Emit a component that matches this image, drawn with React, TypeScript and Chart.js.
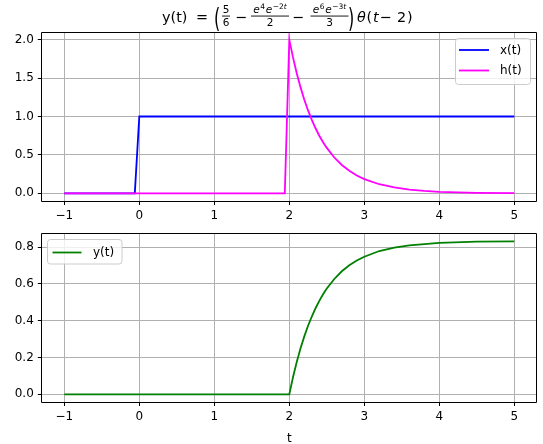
import React, { useEffect, useRef } from "react";
import { Chart, registerables } from "chart.js";
Chart.register(...registerables);

// ---- data ----
const tX = [-1, -0.06, 0, 5];
const xVals = [0, 0, 1, 1];

const tH = [-1, 1.94, 2.0, 2.05, 2.1, 2.15, 2.2, 2.25, 2.3, 2.35, 2.4, 2.45, 2.5, 2.6, 2.7, 2.8, 2.9, 3.0, 3.2, 3.4, 3.6, 3.8, 4.0, 4.5, 5.0];
const hVals = [0, 0, 2.0, 1.766, 1.56, 1.379, 1.219, 1.079, 0.956, 0.847, 0.75, 0.666, 0.591, 0.466, 0.369, 0.293, 0.232, 0.185, 0.118, 0.076, 0.049, 0.032, 0.02, 0.007, 0.002];

const tY = [-1, 2.0, 2.05, 2.1, 2.15, 2.2, 2.25, 2.3, 2.35, 2.4, 2.45, 2.5, 2.6, 2.7, 2.8, 2.9, 3.0, 3.2, 3.4, 3.6, 3.8, 4.0, 4.5, 5.0];
const yVals = [0, 0, 0.094, 0.177, 0.25, 0.315, 0.373, 0.423, 0.468, 0.508, 0.544, 0.575, 0.627, 0.669, 0.702, 0.728, 0.748, 0.779, 0.798, 0.81, 0.817, 0.823, 0.83, 0.832];

const xTicks = [-1, 0, 1, 2, 3, 4, 5];
const topYTicks = [0, 0.5, 1, 1.5, 2];
const botYTicks = [0, 0.2, 0.4, 0.6, 0.8];

const labelX = "x(t)";
const labelH = "h(t)";
const labelY = "y(t)";
const xAxisLabel = "t";

const FONT = "'DejaVu Sans', sans-serif";

function pts(xs: number[], ys: number[]) {
  return xs.map((x, i) => ({ x, y: ys[i] }));
}

function makeScales(yMin: number, yMax: number, yTicks: number[], xAxisH: number) {
  const grid = { color: "#b0b0b0", lineWidth: 1, tickLength: 4, tickColor: "#000", drawTicks: true };
  const tickFont = { family: FONT, size: 12 };
  return {
    x: {
      type: "linear",
      min: -1.3,
      max: 5.3,
      afterBuildTicks: (s: any) => {
        s.ticks = xTicks.map((v) => ({ value: v }));
      },
      afterFit: (s: any) => {
        s.height = xAxisH;
      },
      grid,
      border: { display: false },
      ticks: {
        color: "#000",
        font: tickFont,
        padding: 4,
        maxRotation: 0,
        autoSkip: false,
        callback: (v: any) => String(v).replace("-", "\u2212"),
      },
    },
    y: {
      type: "linear",
      min: yMin,
      max: yMax,
      afterBuildTicks: (s: any) => {
        s.ticks = yTicks.map((v) => ({ value: v }));
      },
      afterFit: (s: any) => {
        s.width = 41.8;
      },
      grid,
      border: { display: false },
      ticks: {
        color: "#000",
        font: tickFont,
        padding: 4,
        autoSkip: false,
        callback: (v: any) => Number(v).toFixed(1),
      },
    },
  };
}

const framePlugin = {
  id: "frame",
  afterDatasetsDraw(chart: any) {
    const { left, top, right, bottom } = chart.chartArea;
    const ctx = chart.ctx;
    const a = (p: number) => Math.round(p - 0.5) + 0.5;
    ctx.save();
    ctx.strokeStyle = "#000";
    ctx.lineWidth = 1;
    ctx.beginPath();
    ctx.rect(a(left), a(top), a(right) - a(left), a(bottom) - a(top));
    ctx.stroke();
    ctx.restore();
  },
};

function legendPlugin(
  id: string,
  box: { x: number; y: number; w: number; h: number; lx0: number; lx1: number; tx: number },
  items: { label: string; color: string; y: number }[]
) {
  return {
    id,
    afterDraw(chart: any) {
      const ctx = chart.ctx;
      ctx.save();
      const r = 3;
      const { x, y, w, h } = box;
      ctx.beginPath();
      ctx.moveTo(x + r, y);
      ctx.lineTo(x + w - r, y);
      ctx.arcTo(x + w, y, x + w, y + r, r);
      ctx.lineTo(x + w, y + h - r);
      ctx.arcTo(x + w, y + h, x + w - r, y + h, r);
      ctx.lineTo(x + r, y + h);
      ctx.arcTo(x, y + h, x, y + h - r, r);
      ctx.lineTo(x, y + r);
      ctx.arcTo(x, y, x + r, y, r);
      ctx.closePath();
      ctx.fillStyle = "rgba(255,255,255,0.8)";
      ctx.fill();
      ctx.strokeStyle = "#cccccc";
      ctx.lineWidth = 1;
      ctx.stroke();
      items.forEach((it) => {
        ctx.strokeStyle = it.color;
        ctx.lineWidth = 1.8;
        ctx.beginPath();
        ctx.moveTo(box.lx0, it.y);
        ctx.lineTo(box.lx1, it.y);
        ctx.stroke();
        ctx.fillStyle = "#000";
        ctx.font = `12px ${FONT}`;
        ctx.textAlign = "left";
        ctx.textBaseline = "middle";
        ctx.fillText(it.label, box.tx, it.y + 0.5);
      });
      ctx.restore();
    },
  };
}

type Run = { t: string; size: number; italic?: boolean; dy?: number; gap?: number };

function runsWidth(ctx: CanvasRenderingContext2D, runs: Run[]) {
  let w = 0;
  runs.forEach((r) => {
    ctx.font = `${r.italic ? "italic " : ""}${r.size}px ${FONT}`;
    w += ctx.measureText(r.t).width + (r.gap || 0);
  });
  return w;
}

function drawRuns(ctx: CanvasRenderingContext2D, runs: Run[], cx: number, baseline: number) {
  const total = runsWidth(ctx, runs);
  let x = cx - total / 2;
  ctx.textAlign = "left";
  runs.forEach((r) => {
    ctx.font = `${r.italic ? "italic " : ""}${r.size}px ${FONT}`;
    ctx.fillText(r.t, x, baseline + (r.dy || 0));
    x += ctx.measureText(r.t).width + (r.gap || 0);
  });
  return total;
}

function drawFrac(ctx: CanvasRenderingContext2D, num: Run[], den: Run[], cx: number, barW: number) {
  drawRuns(ctx, num, cx, 13);
  drawRuns(ctx, den, cx, 26);
  ctx.fillRect(cx - barW / 2, 15.6, barW, 0.9);
}

function bigParen(ctx: CanvasRenderingContext2D, ch: string, cx: number, B: number) {
  ctx.save();
  ctx.translate(cx, B);
  ctx.scale(1, 1.7);
  ctx.font = `16px ${FONT}`;
  ctx.textAlign = "center";
  ctx.fillText(ch, 0, 3.5);
  ctx.restore();
}

const titlePlugin = {
  id: "mathTitle",
  afterDraw(chart: any) {
    const ctx: CanvasRenderingContext2D = chart.ctx;
    ctx.save();
    ctx.fillStyle = "#000";
    ctx.textBaseline = "alphabetic";
    const B = 21.5;
    ctx.font = `14.4px ${FONT}`;
    ctx.textAlign = "left";
    ctx.fillText("y(t)", 162, B);
    ctx.textAlign = "center";
    ctx.fillText("=", 202, B);
    bigParen(ctx, "(", 217, B);
    drawFrac(ctx, [{ t: "5", size: 10.5 }], [{ t: "6", size: 10.5 }], 226, 8);
    ctx.font = `14.4px ${FONT}`;
    ctx.textAlign = "center";
    ctx.fillText("\u2212", 241, B);
    drawFrac(
      ctx,
      [
        { t: "e", size: 10.5, italic: true, gap: 0.6 },
        { t: "4", size: 7.5, dy: -4, gap: 0.6 },
        { t: "e", size: 10.5, italic: true, gap: 0.6 },
        { t: "\u22122", size: 7.5, dy: -4 },
        { t: "t", size: 7.5, italic: true, dy: -4 },
      ],
      [{ t: "2", size: 10.5 }],
      270,
      38
    );
    ctx.font = `14.4px ${FONT}`;
    ctx.textAlign = "center";
    ctx.fillText("\u2212", 298, B);
    drawFrac(
      ctx,
      [
        { t: "e", size: 10.5, italic: true, gap: 0.6 },
        { t: "6", size: 7.5, dy: -4, gap: 0.6 },
        { t: "e", size: 10.5, italic: true, gap: 0.6 },
        { t: "\u22123", size: 7.5, dy: -4 },
        { t: "t", size: 7.5, italic: true, dy: -4 },
      ],
      [{ t: "3", size: 10.5 }],
      329.5,
      38
    );
    bigParen(ctx, ")", 351, B);
    ctx.textAlign = "left";
    ctx.font = `italic 14.4px ${FONT}`;
    ctx.fillText("\u03b8", 357, B);
    ctx.font = `14.4px ${FONT}`;
    ctx.fillText("(", 366.5, B);
    ctx.font = `italic 14.4px ${FONT}`;
    ctx.fillText("t", 373, B);
    ctx.font = `14.4px ${FONT}`;
    ctx.fillText("\u2212", 379.5, B);
    ctx.fillText("2", 397, B);
    ctx.fillText(")", 407, B);
    ctx.restore();
  },
};

const xLabelPlugin = {
  id: "xLabel",
  afterDraw(chart: any) {
    const ctx = chart.ctx;
    const { left, right } = chart.chartArea;
    ctx.save();
    ctx.fillStyle = "#000";
    ctx.font = `12px ${FONT}`;
    ctx.textAlign = "center";
    ctx.textBaseline = "alphabetic";
    ctx.fillText(xAxisLabel, (left + right) / 2, 220);
    ctx.restore();
  },
};

function lineDs(label: string, data: any[], color: string, order: number) {
  return {
    label,
    data,
    order,
    borderColor: color,
    backgroundColor: color,
    borderWidth: 1.8,
    pointRadius: 0,
    tension: 0,
    fill: false,
  };
}

export default function App() {
  const topRef = useRef<HTMLCanvasElement>(null);
  const botRef = useRef<HTMLCanvasElement>(null);

  useEffect(() => {
    const common = {
      responsive: false,
      animation: false,
      devicePixelRatio: 1,
      plugins: { legend: { display: false }, tooltip: { enabled: false }, title: { display: false } },
    };
    const c1 = new Chart(topRef.current as HTMLCanvasElement, {
      type: "line",
      data: {
        datasets: [lineDs(labelX, pts(tX, xVals), "#0000ff", 2), lineDs(labelH, pts(tH, hVals), "#ff00ff", 1)],
      },
      options: {
        ...common,
        layout: { padding: { top: 32, right: 6.2, left: 0, bottom: 0 } },
        scales: makeScales(-0.1, 2.1, topYTicks, 21) as any,
      } as any,
      plugins: [
        framePlugin,
        titlePlugin,
        legendPlugin("legTop", { x: 455.5, y: 38.5, w: 75, h: 46, lx0: 459, lx1: 489, tx: 500 }, [
          { label: labelX, color: "#0000ff", y: 50 },
          { label: labelH, color: "#ff00ff", y: 70.5 },
        ]),
      ],
    });
    const c2 = new Chart(botRef.current as HTMLCanvasElement, {
      type: "line",
      data: {
        datasets: [lineDs(labelY, pts(tY, yVals), "#008000", 1)],
      },
      options: {
        ...common,
        layout: { padding: { top: 11.5, right: 6.2, left: 0, bottom: 0 } },
        scales: makeScales(-0.0416, 0.8743, botYTicks, 42) as any,
      } as any,
      plugins: [
        framePlugin,
        xLabelPlugin,
        legendPlugin("legBot", { x: 47.5, y: 17.5, w: 74.5, h: 24.5, lx0: 52.5, lx1: 81.5, tx: 93 }, [
          { label: labelY, color: "#008000", y: 30.5 },
        ]),
      ],
    });
    return () => {
      c1.destroy();
      c2.destroy();
    };
  }, []);

  return (
    <div style={{ position: "absolute", left: 0, top: 0, width: 543, height: 444, background: "#fff" }}>
      <canvas
        ref={topRef}
        width={543}
        height={222}
        style={{ position: "absolute", left: 0, top: 0, width: 543, height: 222, display: "block" }}
      />
      <canvas
        ref={botRef}
        width={543}
        height={222}
        style={{ position: "absolute", left: 0, top: 222, width: 543, height: 222, display: "block" }}
      />
    </div>
  );
}
